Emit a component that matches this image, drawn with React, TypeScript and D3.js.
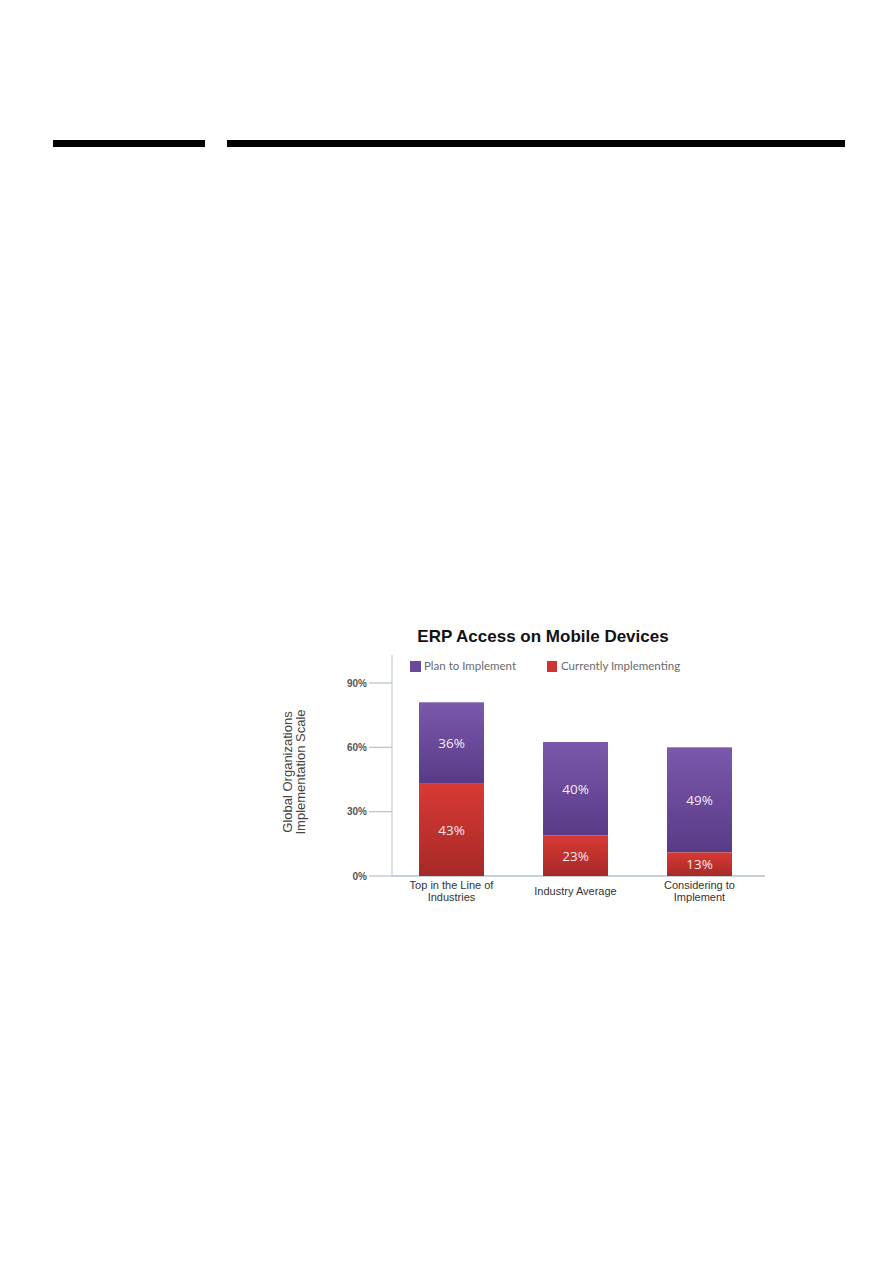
import React from "react";
import * as d3 from "d3";

const categories = ["Top in the Line of\nIndustries", "Industry Average", "Considering to\nImplement"];
const currentlyImplementing = [43, 19, 11];
const planToImplement = [38, 43.5, 49];
const currentLabels = ["43%", "23%", "13%"];
const planLabels = ["36%", "40%", "49%"];
const yTicks = [0, 30, 60, 90];
const seriesNames = ["Plan to Implement", "Currently Implementing"];
const title = "ERP Access on Mobile Devices";
const yTitle = ["Global Organizations", "Implementation Scale"];

export default function App() {
  const W = 893, H = 1263;
  const y = d3.scaleLinear().domain([0, 90]).range([876, 683]);
  const x = d3.scaleBand<string>().domain(categories).range([389.5, 761.5]).paddingInner(0.476).paddingOuter(0.238);
  const bw = x.bandwidth();
  const axisX = 392;

  return (
    <svg width={W} height={H} style={{ position: "absolute", left: 0, top: 0, background: "#fff" }}>
      <defs>
        <linearGradient id="gp" x1="0" y1="0" x2="0" y2="1">
          <stop offset="0" stopColor="#7b58ac" />
          <stop offset="1" stopColor="#583b86" />
        </linearGradient>
        <linearGradient id="gr" x1="0" y1="0" x2="0" y2="1">
          <stop offset="0" stopColor="#d83a35" />
          <stop offset="1" stopColor="#a62927" />
        </linearGradient>
      </defs>
      {/* header rules */}
      <rect x={53} y={140} width={152} height={7} fill="#000" />
      <rect x={227} y={140} width={618} height={7} fill="#000" />

      {/* title */}
      <text x={543} y={642} textAnchor="middle" fontFamily="Liberation Sans, Arial, sans-serif" fontWeight="bold" fontSize={17} fill="#111">{title}</text>

      {/* legend */}
      <rect x={410} y={661} width={11} height={11} fill="#6a48a0" />
      <text x={424} y={670} fontFamily="Lato, sans-serif" fontSize={11.5} fill="#6a6a6a">{seriesNames[0]}</text>
      <rect x={547} y={661} width={10} height={11} fill="#cf3431" />
      <text x={561} y={670} fontFamily="Lato, sans-serif" fontSize={11.5} fill="#6a6a6a">{seriesNames[1]}</text>

      {/* y axis */}
      <line x1={axisX} x2={axisX} y1={655} y2={876} stroke="#c4cdd6" strokeWidth={1.2} />
      <line x1={axisX} x2={765} y1={y(0)} y2={y(0)} stroke="#b5c0cc" strokeWidth={1.4} />
      {yTicks.map((t) => (
        <g key={t}>
          <line x1={369} x2={axisX} y1={y(t)} y2={y(t)} stroke="#b5c0cc" strokeWidth={1.2} />
          <text x={367} y={y(t) + 3.5} textAnchor="end" fontFamily="Liberation Sans, Arial, sans-serif" fontWeight="bold" fontSize={10} fill="#555">{t + "%"}</text>
        </g>
      ))}

      {/* y title */}
      <text transform={`translate(292,772) rotate(-90)`} textAnchor="middle" fontFamily="Liberation Sans, Arial, sans-serif" fontSize={13} fill="#444">
        <tspan x={0} dy={0}>{yTitle[0]}</tspan>
        <tspan x={0} dy={13}>{yTitle[1]}</tspan>
      </text>

      {/* bars */}
      {categories.map((c, i) => {
        const x0 = x(c) as number;
        const r0 = y(0), r1 = y(currentlyImplementing[i]);
        const p1 = y(currentlyImplementing[i] + planToImplement[i]);
        return (
          <g key={c}>
            <rect x={x0} y={p1} width={bw} height={r1 - p1} fill="url(#gp)" />
            <rect x={x0} y={r1} width={bw} height={r0 - r1} fill="url(#gr)" />
            <text x={x0 + bw / 2} y={(p1 + r1) / 2 + 5} textAnchor="middle" fontFamily="Open Sans, sans-serif" fontSize={13.5} fill="#f3ecf5">{planLabels[i]}</text>
            <text x={x0 + bw / 2} y={(r1 + r0) / 2 + 5} textAnchor="middle" fontFamily="Open Sans, sans-serif" fontSize={13.5} fill="#f8e8e6">{currentLabels[i]}</text>
          </g>
        );
      })}

      {/* x labels */}
      {categories.map((c) => {
        const lines = c.split("\n");
        const cx = (x(c) as number) + bw / 2;
        const startY = lines.length === 1 ? 895 : 889;
        return (
          <text key={c} x={cx} y={startY} textAnchor="middle" fontFamily="Liberation Sans, Arial, sans-serif" fontSize={11} fill="#333">
            {lines.map((l, j) => (
              <tspan key={j} x={cx} dy={j === 0 ? 0 : 12}>{l}</tspan>
            ))}
          </text>
        );
      })}
    </svg>
  );
}
